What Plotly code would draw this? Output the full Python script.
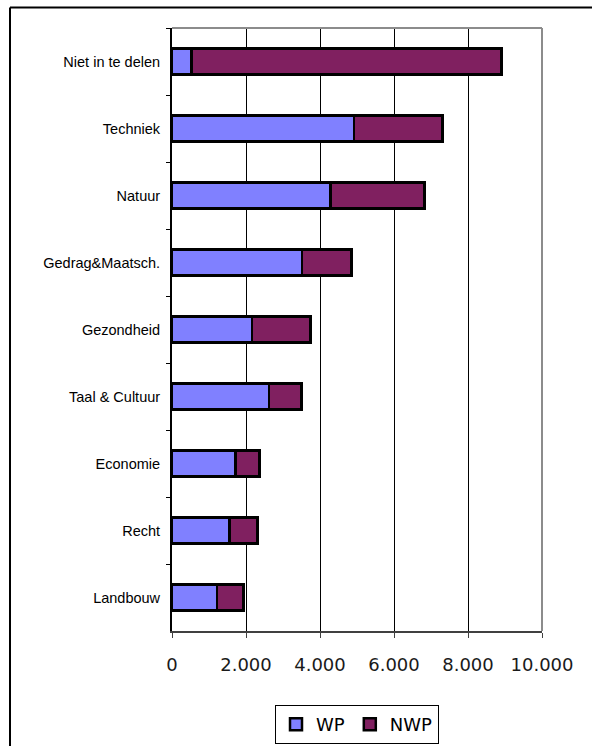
import plotly.graph_objects as go

# Categories listed top to bottom as shown
categories = [
    "Niet in te delen", "Techniek", "Natuur", "Gedrag&Maatsch.", "Gezondheid",
    "Taal & Cultuur", "Economie", "Recht", "Landbouw",
]
wp = [525, 4920, 4290, 3520, 2160, 2620, 1720, 1550, 1210]
nwp = [8380, 2390, 2530, 1330, 1580, 880, 640, 760, 720]
x_ticks = [0, 2000, 4000, 6000, 8000, 10000]

W, H = 592, 746
L, R, T, B = 172, 50, 28, 115
pw, ph = W - L - R, H - T - B


def px_x(p):
    return (p - L) / pw


def px_y(p):
    return (H - B - p) / ph


fig = go.Figure()
fig.add_trace(go.Bar(
    y=categories, x=wp, name="WP", orientation="h",
    marker=dict(color="#8080FF", line=dict(color="#000000", width=2.5)),
))
fig.add_trace(go.Bar(
    y=categories, x=nwp, name="NWP", orientation="h",
    marker=dict(color="#802060", line=dict(color="#000000", width=2.5)),
))

shapes = [
    # plot-area frame (top and right edges)
    dict(type="line", xref="paper", yref="paper", x0=0, x1=1, y0=1, y1=1,
         line=dict(color="#8c8c8c", width=2), layer="above"),
    dict(type="line", xref="paper", yref="paper", x0=1, x1=1, y0=0, y1=1,
         line=dict(color="#8c8c8c", width=2), layer="above"),
    # outer chart border
    dict(type="line", xref="paper", yref="paper", x0=px_x(10), x1=px_x(10),
         y0=px_y(760), y1=px_y(7.5), line=dict(color="#000000", width=2)),
    dict(type="line", xref="paper", yref="paper", x0=px_x(10), x1=px_x(610),
         y0=px_y(7.5), y1=px_y(7.5), line=dict(color="#000000", width=2)),
]

fig.update_layout(
    width=W, height=H,
    margin=dict(l=L, r=R, t=T, b=B, autoexpand=False),
    barmode="stack",
    bargap=0.61,
    paper_bgcolor="white",
    plot_bgcolor="white",
    separators=",.",
    showlegend=True,
    legend=dict(
        orientation="h", x=0.5, xanchor="center", y=px_y(705), yanchor="top",
        font=dict(family="DejaVu Sans", size=18, color="#000000"),
        bordercolor="#000000", borderwidth=1, bgcolor="white",
        traceorder="normal",
    ),
    shapes=shapes,
    xaxis=dict(
        range=[0, 10000], tickvals=x_ticks, tickformat=",.0f",
        showgrid=True, gridcolor="#000000", gridwidth=1,
        showline=True, linecolor="#404040", linewidth=2,
        ticks="outside", ticklen=5, tickcolor="#404040", tickwidth=1,
        ticklabelstandoff=11,
        tickfont=dict(family="DejaVu Sans", size=18, color="#1a1a1a"),
        zeroline=False, fixedrange=True,
    ),
    yaxis=dict(
        autorange="reversed", type="category",
        showline=True, linecolor="#000000", linewidth=2,
        ticks="outside", ticklen=4, tickcolor="#000000", tickson="boundaries",
        showgrid=False,
        tickfont=dict(family="Liberation Sans", size=14.5, color="#000000"),
        ticklabelstandoff=7,
        fixedrange=True,
    ),
)

fig.write_html("out.html")
